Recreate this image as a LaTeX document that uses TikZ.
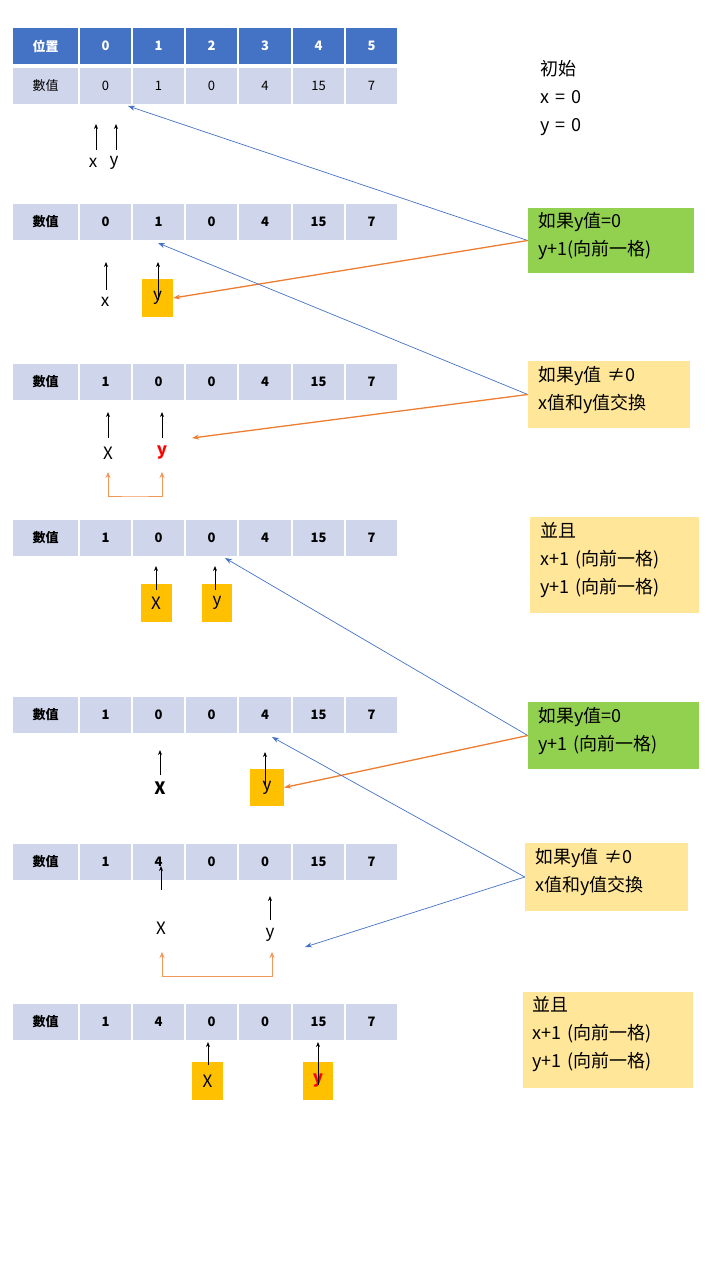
\documentclass[tikz,border=0pt]{standalone}
\usepackage{fontspec}
\setmainfont{Noto Sans CJK TC}
\usetikzlibrary{arrows.meta}
\definecolor{hdr}{HTML}{4472C4}
\definecolor{cellbg}{HTML}{CFD5EA}
\definecolor{grn}{HTML}{92D050}
\definecolor{ylw}{HTML}{FFE699}
\definecolor{org}{HTML}{ED7D31}
\definecolor{box}{HTML}{FFC000}
\definecolor{blu}{HTML}{4472C4}
\begin{document}
\begin{tikzpicture}[x=1pt,y=-1pt,
 cell/.style={fill=cellbg,draw=white,line width=1.2pt,minimum height=37pt,inner sep=0pt,font=\fontsize{13}{15}\selectfont},
 hcell/.style={cell,fill=hdr,text=white,font=\fontsize{13}{15}\selectfont\bfseries},
 lbl/.style={font=\fontsize{17}{20}\selectfont,inner sep=1pt},
 pbox/.style={fill=box,minimum width=31pt,minimum height=38pt,inner sep=0pt,font=\fontsize{17}{20}\selectfont},
 note/.style={align=left,anchor=north west,inner sep=0pt,text width=#1,font=\fontsize{18}{28}\selectfont},
 up/.style={-{Stealth[length=5pt,width=4pt]},line width=0.8pt},
 blink/.style={-{Stealth[length=7pt,width=5pt]},blu,line width=0.7pt},
 olink/.style={-{Stealth[length=7pt,width=5pt]},org,line width=1.3pt},
 swap/.style={{Stealth[length=6pt,width=5pt]}-{Stealth[length=6pt,width=5pt]},org!80,line width=0.8pt}]
\useasboundingbox (0,0) rectangle (720,1280);
\newcommand{\trow}[9]{%
 \node[#2,minimum width=67pt] (#1l) at (45.5,#3) {數值};
 \node[#2,minimum width=53pt] (#1c0) at (105.5,#3) {#4};
 \node[#2,minimum width=53pt] (#1c1) at (158.5,#3) {#5};
 \node[#2,minimum width=53pt] (#1c2) at (211.5,#3) {#6};
 \node[#2,minimum width=54pt] (#1c3) at (265,#3) {#7};
 \node[#2,minimum width=53pt] (#1c4) at (318.5,#3) {#8};
 \node[#2,minimum width=53pt] (#1c5) at (371.5,#3) {#9};}
% header
\node[hcell,minimum width=67pt] (hl) at (45.5,46) {位置};
\foreach \i/\x in {0/105.5,1/158.5,2/211.5,3/265,4/318.5,5/371.5}
  \node[hcell,minimum width=53pt] (h\i) at (\x,46) {\i};
\trow{a}{cell}{86}{0}{1}{0}{4}{15}{7}
\trow{b}{cell,font=\fontsize{13}{15}\selectfont\bfseries}{222}{0}{1}{0}{4}{15}{7}
\trow{c}{cell,font=\fontsize{13}{15}\selectfont\bfseries}{382}{1}{0}{0}{4}{15}{7}
\trow{d}{cell,font=\fontsize{13}{15}\selectfont\bfseries}{538}{1}{0}{0}{4}{15}{7}
\trow{e}{cell,font=\fontsize{13}{15}\selectfont\bfseries}{715}{1}{0}{0}{4}{15}{7}
\trow{f}{cell,font=\fontsize{13}{15}\selectfont\bfseries}{862}{1}{4}{0}{0}{15}{7}
\trow{g}{cell,font=\fontsize{13}{15}\selectfont\bfseries}{1022}{1}{4}{0}{0}{15}{7}
% right notes
\node[note=150pt] (n0) at (540,60) {初始\\x = 0\\y = 0};
\node[fill=grn,minimum width=166pt,minimum height=65pt,inner sep=0pt] (n1) at (611,240.5) {};
\node[note=160pt] at (538,212) {如果y值=0\\y+1(向前一格)};
\node[fill=ylw,minimum width=162pt,minimum height=67pt,inner sep=0pt] (n2) at (609,394.5) {};
\node[note=160pt] at (538,366) {如果y值 ≠0\\x值和y值交換};
\node[fill=ylw,minimum width=169pt,minimum height=96pt,inner sep=0pt] (n3) at (614.5,565) {};
\node[note=165pt] at (540,522) {並且\\x+1 (向前一格)\\y+1 (向前一格)};
\node[fill=grn,minimum width=171pt,minimum height=67pt,inner sep=0pt] (n4) at (613.5,735.5) {};
\node[note=165pt] at (538,707) {如果y值=0\\y+1 (向前一格)};
\node[fill=ylw,minimum width=163pt,minimum height=68pt,inner sep=0pt] (n5) at (606.5,877) {};
\node[note=160pt] at (535,848) {如果y值 ≠0\\x值和y值交換};
\node[fill=ylw,minimum width=170pt,minimum height=96pt,inner sep=0pt] (n6) at (608,1040) {};
\node[note=165pt] at (532,996) {並且\\x+1 (向前一格)\\y+1 (向前一格)};
% block 1
\node[lbl] (x1) at (93,163) {x};
\node[lbl] (y1) at (114,163) {y};
\coordinate (x1t) at (96,150); \coordinate (y1t) at (116,150);
\draw[up] (x1t) -- (96,124);
\draw[up] (y1t) -- (116,124);
% block 2
\node[lbl] (x2) at (105,302) {x};
\node[pbox] (y2) at (157.5,298) {y};
\draw[up] (106,290) -- (106,262);
\draw[up] (158,300) -- (158,262);
% block 3
\node[lbl] (x3) at (108,453) {X};
\node[lbl,text=red,font=\fontsize{17}{20}\selectfont\bfseries] (y3) at (162,453) {y};
\draw[up] (108,438) -- (108,412);
\draw[up] (162,438) -- (162,412);
\draw[swap] (108,472) |- (135,496) -| (162,472);
% block 4
\node[pbox] (x4) at (156,603) {X};
\node[pbox,minimum width=30pt] (y4) at (217,603) {y};
\draw[up] (156,590) -- (156,566);
\draw[up] (215,590) -- (215,566);
% block 5
\node[lbl,font=\fontsize{17}{20}\selectfont\bfseries] (x5) at (160,788) {X};
\node[pbox,minimum width=34pt,minimum height=37pt] (y5) at (267,787.5) {y};
\draw[up] (160,775) -- (160,750);
\draw[up] (265,785) -- (265,752);
% block 6
\node[lbl] (x6) at (161,928) {X};
\node[lbl] (y6) at (270,935) {y};
\draw[up] (161,890) -- (161,866);
\draw[up] (270,920) -- (270,896);
\draw[swap] (162,952) |- (217,976) -| (272,952);
% block 7
\node[pbox,minimum height=38pt] (x7) at (207.5,1081) {X};
\node[pbox,minimum width=30pt,text=red,font=\fontsize{17}{20}\selectfont\bfseries] (y7) at (318,1081) {y};
\draw[up] (208,1065) -- (208,1042);
\draw[up] (318,1085) -- (318,1042);
% connectors
\coordinate (p1) at (128,106);
\coordinate (p2) at (158,243);
\coordinate (p3) at (192,438);
\coordinate (p4) at (225,558);
\coordinate (p5) at (272,737);
\coordinate (p6) at (305,947);
\draw[blink] (n1.west) -- (p1);
\draw[olink] (n1.west) -- (y2.east);
\draw[blink] (n2.west) -- (p2);
\draw[olink] (n2.west) -- (p3);
\draw[blink] (n4.west) -- (p4);
\draw[olink] (n4.west) -- (y5.east);
\draw[blink] (n5.west) -- (p5);
\draw[blink] (n5.west) -- (p6);
\end{tikzpicture}
\end{document}
